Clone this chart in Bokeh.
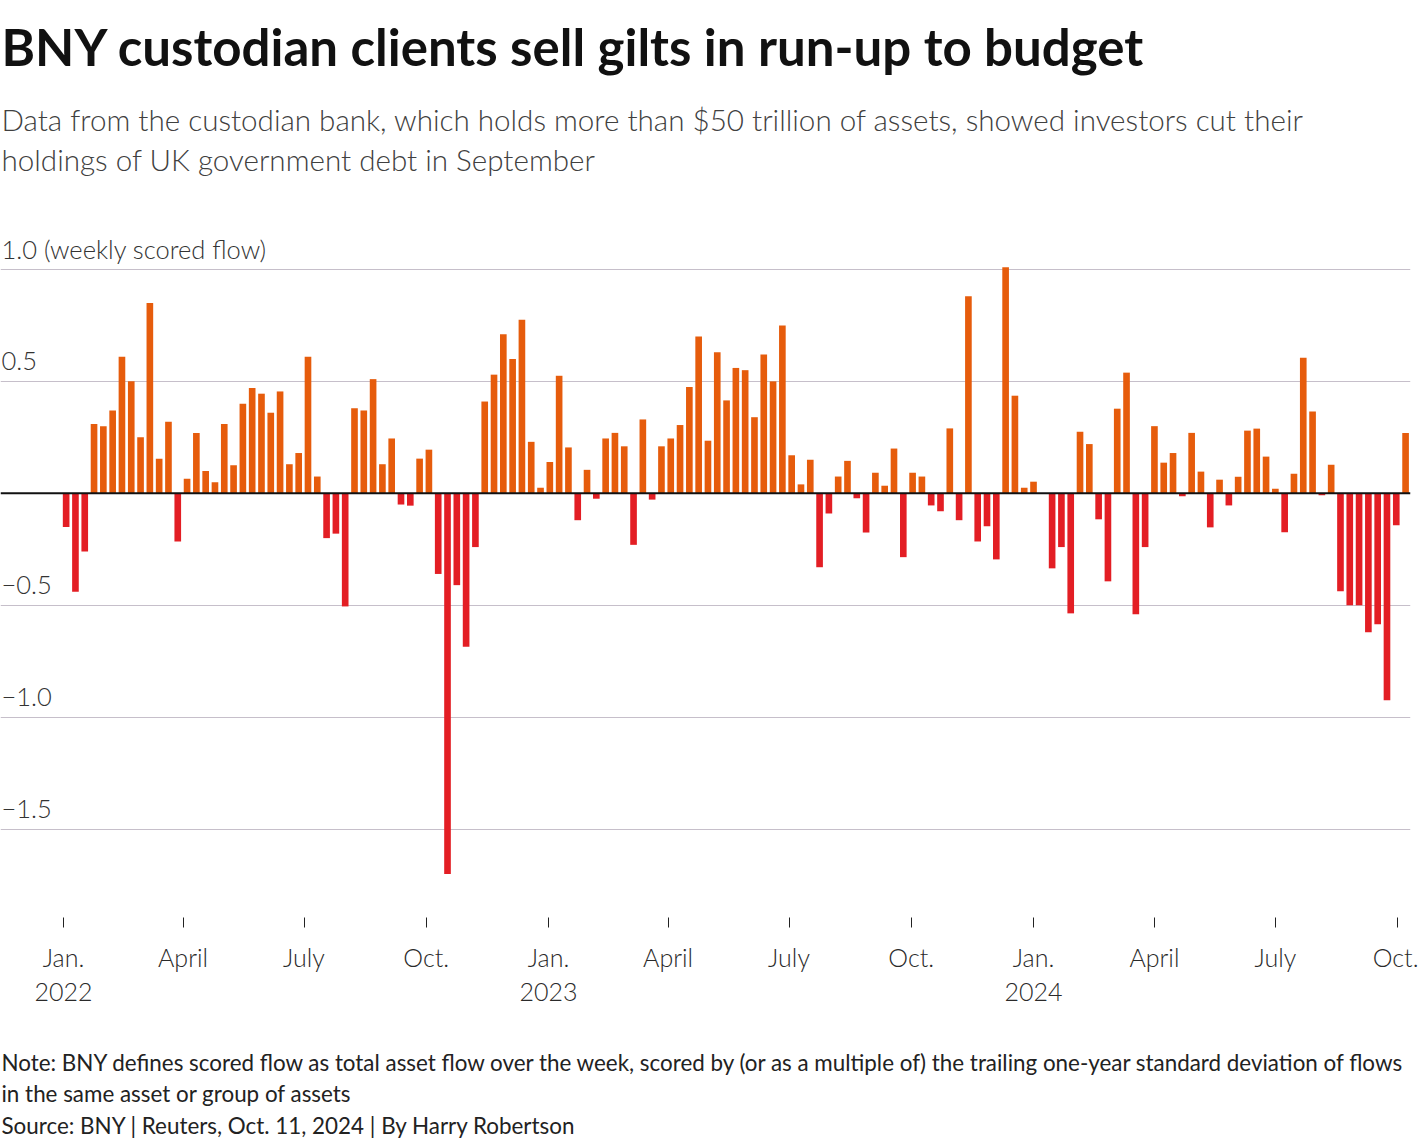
import pandas as pd
from bokeh.plotting import figure
from bokeh.models import Range1d, FixedTicker, Span, Label, Title, ColumnDataSource, GlobalInlineStyleSheet
from bokeh.embed import file_html
from bokeh.resources import INLINE

# ---------------- data ----------------
title_text = "BNY custodian clients sell gilts in run-up to budget"
subtitle_lines = [
    "Data from the custodian bank, which holds more than $50 trillion of assets, showed investors cut their",
    "holdings of UK government debt in September",
]
note_lines = [
    "Note: BNY defines scored flow as total asset flow over the week, scored by (or as a multiple of) the trailing one-year standard deviation of flows",
    "in the same asset or group of assets",
]
source_text = "Source: BNY | Reuters, Oct. 11, 2024 | By Harry Robertson"

first_week = "2022-01-03"
flows = [
    -0.15, -0.44, -0.26, 0.31, 0.30, 0.37, 0.61, 0.50, 0.25, 0.85,
    0.155, 0.32, -0.215, 0.065, 0.27, 0.10, 0.05, 0.31, 0.125, 0.40,
    0.47, 0.445, 0.36, 0.455, 0.13, 0.18, 0.61, 0.075, -0.20, -0.18,
    -0.505, 0.38, 0.37, 0.51, 0.13, 0.245, -0.05, -0.055, 0.155, 0.195,
    -0.36, -1.70, -0.41, -0.685, -0.24, 0.41, 0.53, 0.71, 0.60, 0.775,
    0.23, 0.025, 0.14, 0.525, 0.205, -0.12, 0.105, -0.024, 0.245, 0.27,
    0.21, -0.23, 0.33, -0.028, 0.21, 0.245, 0.305, 0.475, 0.70, 0.235,
    0.63, 0.415, 0.56, 0.55, 0.34, 0.62, 0.50, 0.75, 0.17, 0.04,
    0.15, -0.33, -0.09, 0.075, 0.145, -0.022, -0.175, 0.092, 0.034, 0.20,
    -0.285, 0.092, 0.075, -0.054, -0.08, 0.29, -0.12, 0.88, -0.215, -0.147,
    -0.295, 1.01, 0.436, 0.025, 0.052, 0.0, -0.335, -0.24, -0.536, 0.275,
    0.22, -0.116, -0.393, 0.378, 0.539, -0.54, -0.24, 0.30, 0.137, 0.18,
    -0.013, 0.27, 0.097, -0.152, 0.061, -0.054, 0.074, 0.28, 0.289, 0.164,
    0.021, -0.174, 0.088, 0.606, 0.365, -0.009, 0.128, -0.4375, -0.50, -0.50,
    -0.62, -0.585, -0.924, -0.143, 0.27,
]
weeks = pd.date_range(first_week, periods=len(flows), freq="7D")

tick_dates = ["2022-01-01", "2022-04-01", "2022-07-01", "2022-10-01",
              "2023-01-01", "2023-04-01", "2023-07-01", "2023-10-01",
              "2024-01-01", "2024-04-01", "2024-07-01", "2024-10-01"]
tick_labels = ["Jan.\n2022", "April", "July", "Oct.",
               "Jan.\n2023", "April", "July", "Oct.",
               "Jan.\n2024", "April", "July", "Oct."]

y_ticks = [1.0, 0.5, -0.5, -1.0, -1.5]
y_tick_labels = ["1.0 (weekly scored flow)", "0.5", "\u22120.5", "\u22121.0", "\u22121.5"]

POS_COLOR = "#e65c0c"
NEG_COLOR = "#e31e24"
GRID_COLOR = "#c6bfca"
FONT = "Lato"
LIGHT_FONT = "'Lato Light', Lato"

# ---------------- figure ----------------
W, H = 1418, 1140
x_start = pd.Timestamp("2022-01-01") - pd.Timedelta(days=47.4)
x_end = pd.Timestamp("2022-01-01") + pd.Timedelta(days=1013.7)

p = figure(
    width=W, height=H,
    x_axis_type="datetime", y_axis_location=None,
    x_range=Range1d(x_start, x_end), y_range=Range1d(-1.8942, 1.4417),
    output_backend="svg", toolbar_location=None, title=None,
    min_border_left=0, min_border_right=8, min_border_top=0, min_border_bottom=0,
)
p.outline_line_color = None
p.background_fill_color = "white"
p.border_fill_color = "white"
p.stylesheets = [GlobalInlineStyleSheet(css="html, body { margin: 0 !important; padding: 0 !important; }")]

# grid
p.xgrid.visible = False
p.ygrid.ticker = FixedTicker(ticks=y_ticks)
p.ygrid.grid_line_color = GRID_COLOR
p.ygrid.grid_line_width = 1

# bars
src = ColumnDataSource(dict(
    week=weeks, flow=flows,
    color=[POS_COLOR if v >= 0 else NEG_COLOR for v in flows],
))
p.vbar(x="week", top="flow", bottom=0, width=5 * 86400000, source=src,
       fill_color="color", line_color=None)

p.add_layout(Span(location=0, dimension="width", line_color="#111111", line_width=2))

# x axis
tick_ms = [int(pd.Timestamp(d).value // 10**6) for d in tick_dates]
ax = p.xaxis[0]
ax.ticker = FixedTicker(ticks=tick_ms)
ax.major_label_overrides = {t: lab for t, lab in zip(tick_ms, tick_labels)}
ax.axis_line_color = None
ax.major_tick_line_color = "#222222"
ax.major_tick_in = 0
ax.major_tick_out = 10
ax.minor_tick_line_color = None
ax.major_label_standoff = 14
ax.major_label_text_font = LIGHT_FONT
ax.major_label_text_font_size = "25px"
ax.major_label_text_color = "#2a2a2a"
ax.major_label_text_line_height = 1.14
ax.axis_label = " "
ax.axis_label_text_font_size = "1px"
ax.axis_label_standoff = 36

# y labels (above gridlines)
for v, lab in zip(y_ticks, y_tick_labels):
    p.add_layout(Label(x=1, y=v, x_units="screen", y_units="data", text=lab,
                       y_offset=20, text_baseline="alphabetic", text_align="left",
                       text_font=LIGHT_FONT, text_font_size="25.5px", text_color="#333333"))

# header (added innermost first) and footer (added top first)
def add_title(txt, side, size, color, standoff, style="normal", font=FONT):
    p.add_layout(Title(text=txt, align="left", vertical_align="middle", offset=1,
                       standoff=standoff, text_font=font, text_font_size=size,
                       text_color=color, text_font_style=style), side)

add_title(subtitle_lines[1], "above", "29.6px", "#404040", -13.9, font=LIGHT_FONT)
add_title(subtitle_lines[0], "above", "29.6px", "#404040", 18.9, font=LIGHT_FONT)
add_title(title_text, "above", "51px", "#111111", 28.2, style="bold")

add_title(note_lines[0], "below", "22.4px", "#222222", -0.9)
add_title(note_lines[1], "below", "22.4px", "#222222", 5.1)
add_title(source_text, "below", "22.4px", "#222222", 1.1)

open("out.html", "w").write(file_html(p, INLINE))
